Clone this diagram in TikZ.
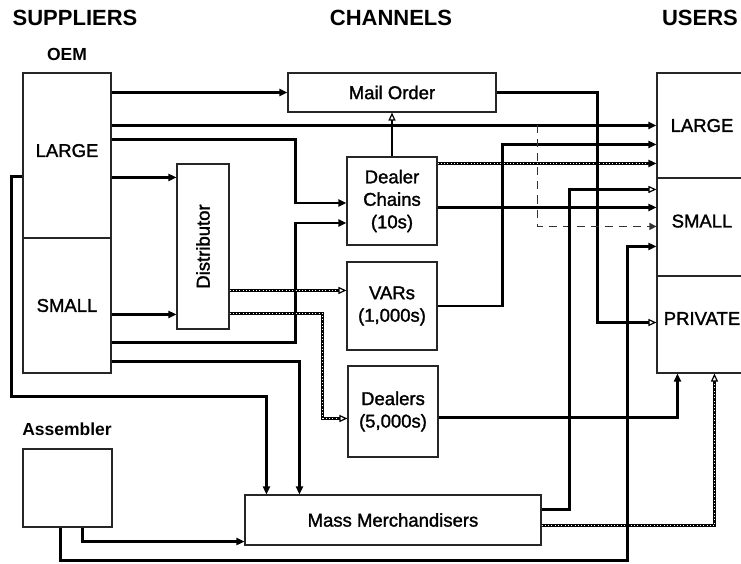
\documentclass[tikz,border=0pt]{standalone}
\usepackage{fontspec}
\setmainfont{Liberation Sans}
\newfontfamily\labfont{Liberation Sans}[FakeBold=1.5]
\usetikzlibrary{arrows.meta,calc}

\begin{document}
\begin{tikzpicture}[x=1pt,y=-1pt,
    box/.style={draw=black!85,line width=1.1pt,inner sep=0pt,align=center,
      font=\labfont\fontsize{18.5}{22.5}\selectfont},
    head/.style={font=\fontsize{22}{26}\selectfont\bfseries},
    sub/.style={font=\fontsize{17.5}{21}\selectfont\bfseries},
    conn/.style={line width=2.6pt,-{Triangle[length=8pt,width=7pt]}},
    oconn/.style={line width=2.6pt,-{Triangle[open,length=8pt,width=7pt,line width=1.2pt]}},
    hatch/.style={postaction={draw=white,-,line width=0.5pt,dash pattern=on 0.8pt off 2.5pt,shorten >=9pt}},
    guide/.style={draw=black!80,line width=1.3pt,dash pattern=on 8pt off 6pt,-{Triangle[length=7pt,width=7pt]}}]
  \useasboundingbox (0,0) rectangle (741,564);
  \foreach \nm/\x/\lab in {sup/75/SUPPLIERS,chan/391/CHANNELS,users/700/USERS}
    \node[head] (\nm) at (\x,18) {\lab};
  \node[sub] (oem) at (67,54) {OEM};
  \node[sub] (asmlab) at (67,429) {Assembler};

  % suppliers
  \node[box,minimum width=88pt,minimum height=165pt] (oemL) at (67,155.5) {\raisebox{10pt}{LARGE}};
  \node[box,minimum width=88pt,minimum height=135pt] (oemS) at (67,305.5) {SMALL};
  \node[box,minimum width=89pt,minimum height=78pt] (asm) at (67.5,488) {};
  \node[box,minimum width=52pt,minimum height=165pt] (dist) at (203,246.5)
    {\rotatebox{90}{Distributor}};

  % channels
  \node[box,minimum width=208pt,minimum height=39pt] (mail) at (392,92.5) {Mail Order};
  \node[box,minimum width=90pt,minimum height=88pt] (chains) at (392,201) {Dealer\\Chains\\(10s)};
  \node[box,minimum width=90pt,minimum height=88pt] (vars) at (392,306) {VARs\\(1,000s)};
  \node[box,minimum width=90pt,minimum height=91pt] (dealers) at (393,411.5) {Dealers\\(5,000s)};
  \node[box,minimum width=296pt,minimum height=50pt] (mass) at (393,520) {Mass Merchandisers};

  % users
  \foreach \nm/\y/\h/\lab in {usrL/125.5/105/LARGE,usrS/227/98/\raisebox{12pt}{SMALL},
      usrP/324.5/97/\raisebox{12pt}{PRIVATE}}
    \node[box,minimum width=90pt,minimum height=\h pt] (\nm) at (702,\y) {\lab};

  % from OEM large
  \draw[conn] (oemL.east |- mail.west) -- (mail.west);
  \draw[conn] (oemL.east |- usrL.west) -- (usrL.west);
  \draw[conn] ($(oemL.north east)+(0,67)$) -- ++(184,0) |- ($(chains.west)+(0,2)$);
  \draw[conn] ($(oemL.north east)+(0,105)$) -- ($(dist.north west)+(0,14)$);
  \draw[conn] ($(oemL.north west)+(0,104)$) -- ++(-11,0) |- ($(mass.north west)+(22,-98)$)
    -- ($(mass.north west)+(22,0)$);

  % from OEM small
  \draw[conn] ($(oemS.north east)+(0,77)$) -- ($(dist.north west)+(0,151)$);
  \draw[conn] ($(oemS.north east)+(0,105)$) -- ++(184,0) |- ($(chains.west)+(0,22)$);
  \draw[conn] ($(oemS.north east)+(0,124)$) -| ($(mass.north west)+(55,0)$);

  % distributor
  \draw[oconn,hatch] ($(dist.north east)+(0,127)$) -- ($(vars.north west)+(0,29)$);
  \draw[oconn,hatch] ($(dist.north east)+(0,150)$) -- ++(93,0) |- ($(dealers.west)+(0,7)$);

  % channels to users
  \draw[oconn] (chains.north) -- (chains.north |- mail.south);
  \draw[conn,hatch] ($(chains.north east)+(0,7)$) -- ($(usrL.north west)+(0,91)$);
  \draw[conn] ($(chains.north east)+(0,51)$) -- ($(usrS.north west)+(0,30)$);
  \draw[conn] (vars.east) -- ++(65,0) |- ($(usrL.north west)+(0,72)$);
  \draw[oconn] (mail.east) -- ++(101,0) |- ($(usrP.west)+(0,-2)$);
  \coordinate (dsplit) at ($(usrL.west)+(-119,0)$);
  \draw[guide] (dsplit) |- ($(usrS.north west)+(0,49)$);
  \draw[oconn] ($(mass.north east)+(0,15)$) -- ++(28,0) |- ($(usrS.north west)+(0,12)$);
  \draw[oconn,hatch] ($(mass.north east)+(0,31)$) -| ($(usrP.south west)+(58,0)$);
  \draw[conn] ($(dealers.east)+(0,6)$) -| ($(usrP.south west)+(21,0)$);

  % assembler
  \draw[conn] ($(asm.south west)+(60,0)$) |- ($(mass.south west)+(0,-4)$);
  \draw[conn] ($(asm.south west)+(38,0)$) |- ($(mass.south east)+(86,15)$)
    |- ($(usrS.north west)+(0,69)$);
\end{tikzpicture}
\end{document}
